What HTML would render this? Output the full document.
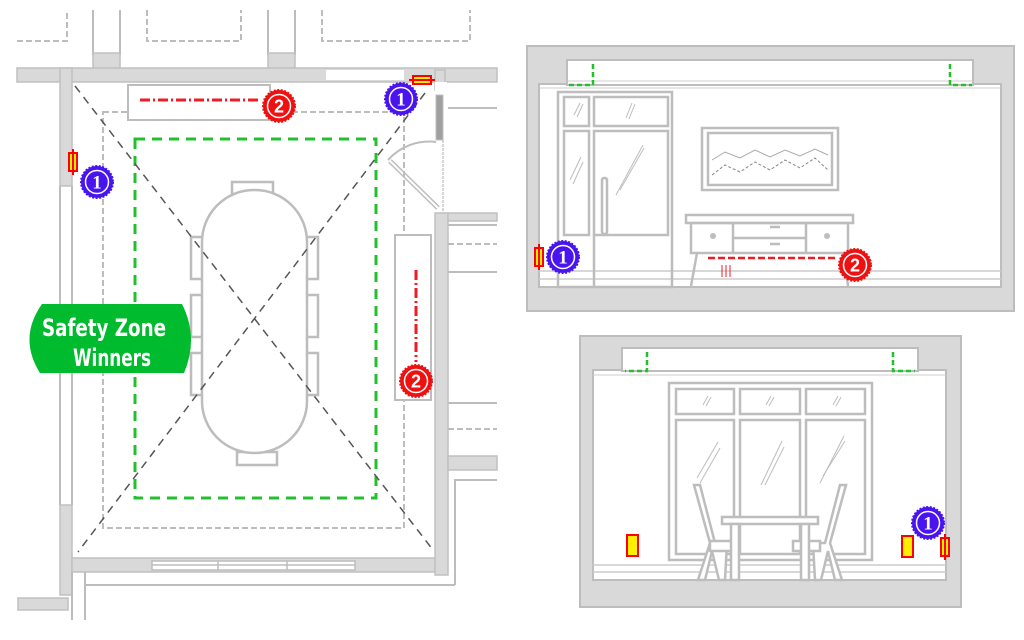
<!DOCTYPE html>
<html><head><meta charset="utf-8"><style>
html,body{margin:0;padding:0;background:#fff;width:1024px;height:640px;overflow:hidden}
svg{display:block}
</style></head><body>
<svg width="1024" height="640" viewBox="0 0 1024 640" xmlns="http://www.w3.org/2000/svg">
<defs>
<g id="b1">
<circle r="16" fill="#4a14ee" stroke="#4a14ee" stroke-width="2" stroke-dasharray="2 1.5"/>
<circle r="11.5" fill="none" stroke="#fff" stroke-width="1.5"/>
<text x="0" y="6.5" text-anchor="middle" font-family="Liberation Serif,serif" font-weight="bold" font-size="19" fill="#fff">1</text>
</g>
<g id="b2">
<circle r="16" fill="#ee1111" stroke="#ee1111" stroke-width="2" stroke-dasharray="2 1.5"/>
<circle r="11.5" fill="none" stroke="#fff" stroke-width="1.5"/>
<text x="0" y="6.5" text-anchor="middle" font-family="Liberation Sans,sans-serif" font-weight="bold" font-size="18" fill="#fff">2</text>
</g>
<g id="sv"><rect x="-4" y="-9" width="8" height="18" fill="#ffee00" stroke="#f00" stroke-width="2"/><line x1="0" y1="-13" x2="0" y2="13" stroke="#f00" stroke-width="2"/></g>
<g id="sh"><rect x="-9" y="-4" width="18" height="8" fill="#ffee00" stroke="#f00" stroke-width="2"/><line x1="-13" y1="0" x2="13" y2="0" stroke="#f00" stroke-width="2"/></g>
</defs>

<!-- ===== FLOOR PLAN ===== -->
<g fill="none" stroke="#bdbdbd" stroke-width="2" stroke-dasharray="6 3">
<polyline points="17,41 67,41 67,10"/>
<polyline points="147,10 147,41 241,41 241,10"/>
<polyline points="322,10 322,41 470,41 470,10"/>
</g>
<g stroke="#bdbdbd" stroke-width="2">
<line x1="93" y1="10" x2="93" y2="55"/><line x1="120" y1="10" x2="120" y2="55"/>
<line x1="268" y1="10" x2="268" y2="55"/><line x1="295" y1="10" x2="295" y2="55"/>
</g>
<g fill="#d9d9d9" stroke="#c0c0c0" stroke-width="1.5">
<rect x="93" y="53" width="27" height="16"/>
<rect x="268" y="53" width="27" height="16"/>
<rect x="17" y="68" width="480" height="14"/>
<rect x="60" y="68" width="12" height="118"/>
<rect x="60" y="505" width="12" height="90"/>
<rect x="72" y="558" width="370" height="14"/>
<rect x="435" y="213" width="13" height="362"/>
<rect x="448" y="213" width="49" height="8"/>
<rect x="448" y="456" width="49" height="14"/>
<rect x="435" y="70" width="10" height="20"/>
<rect x="18" y="598" width="50" height="12"/>
</g>
<rect x="326" y="70" width="78" height="10" fill="#fff"/>
<rect x="435" y="82" width="12" height="12" fill="#fff"/>
<g stroke="#bdbdbd" stroke-width="2">
<line x1="60" y1="186" x2="60" y2="505"/><line x1="72" y1="186" x2="72" y2="505"/>
<line x1="72" y1="572" x2="72" y2="620"/><line x1="85" y1="572" x2="85" y2="620"/>
<line x1="85" y1="585" x2="455" y2="585"/>
<polyline points="455,585 455,480 497,480" fill="none"/>
<line x1="448" y1="225" x2="497" y2="225"/>
<line x1="448" y1="272" x2="497" y2="272"/>
<line x1="448" y1="403" x2="497" y2="403"/>
<line x1="448" y1="108" x2="497" y2="108"/>
</g>
<line x1="448" y1="244" x2="497" y2="244" stroke="#bdbdbd" stroke-width="2" stroke-dasharray="6 3"/>
<line x1="448" y1="429" x2="497" y2="429" stroke="#bdbdbd" stroke-width="2" stroke-dasharray="6 3"/>
<g fill="#fff" stroke="#bdbdbd" stroke-width="1.5">
<rect x="152" y="561" width="203" height="9"/>
</g>
<g stroke="#bdbdbd" stroke-width="1.5"><line x1="152" y1="565" x2="355" y2="565"/><line x1="218" y1="561" x2="218" y2="570"/><line x1="287" y1="561" x2="287" y2="570"/></g>
<rect x="436" y="95" width="7" height="45" fill="#a0a0a0" stroke="#c0c0c0"/>
<path d="M388 160 A 55 55 0 0 1 436 142" fill="none" stroke="#bdbdbd" stroke-width="2"/>
<line x1="390" y1="161" x2="438" y2="208" stroke="#bdbdbd" stroke-width="5"/>
<line x1="390" y1="161" x2="438" y2="208" stroke="#fff" stroke-width="2"/>
<line x1="443" y1="140" x2="443" y2="213" stroke="#c8c8c8" stroke-width="1.5" stroke-dasharray="3 1"/>
<rect x="103" y="112" width="301" height="416" fill="none" stroke="#bdbdbd" stroke-width="2" stroke-dasharray="6 3"/>
<rect x="128" y="85" width="142" height="35" fill="#fff" stroke="#bdbdbd" stroke-width="2"/>
<rect x="395" y="235" width="36" height="165" fill="#fff" stroke="#bdbdbd" stroke-width="2"/>
<rect x="135" y="139" width="241" height="359" fill="none" stroke="#22c02b" stroke-width="3" stroke-dasharray="10 7"/>
<g fill="#fff" stroke="#bdbdbd" stroke-width="2.5">
<rect x="232" y="182" width="41" height="12"/>
<rect x="237" y="452" width="40" height="13"/>
<rect x="191" y="237" width="12" height="42"/><rect x="191" y="295" width="12" height="42"/><rect x="191" y="353" width="12" height="42"/>
<rect x="305" y="237" width="13" height="42"/><rect x="305" y="295" width="13" height="42"/><rect x="305" y="353" width="13" height="42"/>
<rect x="202" y="190" width="105" height="263" rx="52" ry="52"/>
</g>
<g stroke="#555" stroke-width="1.5" stroke-dasharray="8 6">
<line x1="75" y1="86" x2="433" y2="550"/>
<line x1="425" y1="93" x2="78" y2="552"/>
</g>
<line x1="140" y1="100" x2="258" y2="100" stroke="#ee1c24" stroke-width="3" stroke-dasharray="10 3 2 3"/>
<line x1="416" y1="270" x2="416" y2="362" stroke="#ee1c24" stroke-width="3" stroke-dasharray="10 3 2 3"/>
<use href="#b2" x="279" y="106"/>
<use href="#b2" x="416" y="381"/>
<use href="#b1" x="401" y="99"/>
<use href="#b1" x="97" y="182"/>
<use href="#sv" x="73" y="162"/>
<use href="#sh" x="422" y="80"/>
<path d="M42 304 H182 Q199 338 184 373 H40 Q18 338 42 304 Z" fill="#00bb2d"/>
<text x="42" y="336" textLength="124" lengthAdjust="spacingAndGlyphs" font-family="DejaVu Sans Condensed,Liberation Sans Narrow,sans-serif" font-size="24" font-weight="bold" fill="#fff">Safety Zone</text>
<text x="73" y="366" textLength="78" lengthAdjust="spacingAndGlyphs" font-family="DejaVu Sans Condensed,Liberation Sans Narrow,sans-serif" font-size="24" font-weight="bold" fill="#fff">Winners</text>

<!-- ===== ELEVATION 1 ===== -->
<rect x="527" y="46" width="487" height="265" fill="#d9d9d9" stroke="#bdbdbd" stroke-width="2"/>
<rect x="539" y="84" width="462" height="203" fill="#fff" stroke="#bdbdbd" stroke-width="2"/>
<rect x="567" y="60" width="406" height="25" fill="#fff" stroke="#bdbdbd" stroke-width="2"/>
<line x1="539" y1="88" x2="1001" y2="88" stroke="#ccc"/>
<line x1="567" y1="81" x2="973" y2="81" stroke="#ccc"/>
<polyline points="593,64 593,85 568,85" fill="none" stroke="#22c02b" stroke-width="2.5" stroke-dasharray="5 3"/>
<polyline points="950,64 950,85 972,85" fill="none" stroke="#22c02b" stroke-width="2.5" stroke-dasharray="5 3"/>
<line x1="539" y1="271" x2="1001" y2="271" stroke="#ccc" stroke-width="1.5"/>
<line x1="539" y1="279" x2="1001" y2="279" stroke="#ccc" stroke-width="1.5"/>
<g fill="none" stroke="#bdbdbd" stroke-width="2.5">
<rect x="558" y="92" width="114" height="195"/>
<rect x="564" y="97" width="25" height="29"/><rect x="594" y="97" width="74" height="29"/>
<rect x="564" y="131" width="25" height="104"/><rect x="594" y="131" width="74" height="104"/>
<line x1="594" y1="235" x2="594" y2="287"/>
<rect x="602" y="178" width="5" height="56" rx="2"/>
<rect x="702" y="128" width="136" height="62"/><rect x="708" y="133" width="124" height="52"/>
<rect x="686" y="215" width="167" height="8"/>
<rect x="691" y="223" width="157" height="30"/>
<line x1="733" y1="223" x2="733" y2="253"/><line x1="806" y1="223" x2="806" y2="253"/>
<line x1="733" y1="238" x2="806" y2="238"/>
<polyline points="697,253 691,286"/><polyline points="844,253 848,286"/>
</g>
<g stroke="#bdbdbd" stroke-width="1"><line x1="574" y1="115" x2="580" y2="103"/><line x1="577" y1="117" x2="583" y2="104"/><line x1="626" y1="118" x2="632" y2="103"/><line x1="629" y1="119" x2="635" y2="104"/>
<line x1="570" y1="180" x2="581" y2="157"/><line x1="573" y1="184" x2="583" y2="162"/>
<line x1="616" y1="195" x2="643" y2="145"/><line x1="620" y1="190" x2="644" y2="148"/></g>
<polyline points="712,160 725,152 740,158 755,150 770,157 785,150 800,156 815,149 828,155" fill="none" stroke="#aaa"/>
<polyline points="712,175 725,165 740,172 755,162 770,170 785,160 800,168 815,158 828,170" fill="none" stroke="#888" stroke-dasharray="3 2"/>
<circle cx="713" cy="236" r="3" fill="#bdbdbd"/><circle cx="827" cy="236" r="3" fill="#bdbdbd"/>
<line x1="770" y1="227" x2="780" y2="227" stroke="#bdbdbd" stroke-width="2.5"/><line x1="770" y1="244" x2="780" y2="244" stroke="#bdbdbd" stroke-width="2.5"/>
<line x1="708" y1="258" x2="838" y2="258" stroke="#ee1c24" stroke-width="2.5" stroke-dasharray="7 3"/>
<g stroke="#ee1c24" stroke-width="1"><line x1="722" y1="265" x2="722" y2="277"/><line x1="726" y1="265" x2="726" y2="277"/><line x1="730" y1="265" x2="730" y2="277"/></g>
<use href="#b1" x="563" y="257"/>
<use href="#sv" x="539" y="257"/>
<use href="#b2" x="855" y="265"/>

<!-- ===== ELEVATION 2 ===== -->
<rect x="580" y="336" width="381" height="271" fill="#d9d9d9" stroke="#bdbdbd" stroke-width="2"/>
<rect x="593" y="370" width="353" height="210" fill="#fff" stroke="#bdbdbd" stroke-width="2"/>
<rect x="622" y="348" width="296" height="23" fill="#fff" stroke="#bdbdbd" stroke-width="2"/>
<line x1="593" y1="375" x2="946" y2="375" stroke="#ccc"/>
<polyline points="647,352 647,371 625,371" fill="none" stroke="#22c02b" stroke-width="2.5" stroke-dasharray="5 3"/>
<polyline points="893,352 893,371 915,371" fill="none" stroke="#22c02b" stroke-width="2.5" stroke-dasharray="5 3"/>
<line x1="593" y1="565" x2="946" y2="565" stroke="#ccc" stroke-width="1.5"/>
<line x1="593" y1="572" x2="946" y2="572" stroke="#ccc" stroke-width="1.5"/>
<g fill="none" stroke="#bdbdbd" stroke-width="2.5">
<rect x="669" y="383" width="203" height="177"/>
<rect x="676" y="389" width="58" height="25"/><rect x="740" y="389" width="60" height="25"/><rect x="806" y="389" width="59" height="25"/>
<rect x="676" y="420" width="58" height="134"/><rect x="740" y="420" width="60" height="134"/><rect x="806" y="420" width="59" height="134"/>
</g>
<g fill="#fff" stroke="#bdbdbd" stroke-width="2.5">
<polygon points="694,485 700,485 715,543 727,543 725,580 719,580 712,551 705,580 698,580 710,543"/>
<polygon points="846,485 840,485 825,543 813,543 815,580 821,580 828,551 835,580 842,580 830,543"/>
<rect x="710" y="541" width="27" height="10"/><rect x="793" y="541" width="27" height="10"/>
<rect x="722" y="517" width="96" height="7"/>
<rect x="731" y="524" width="8" height="56"/><rect x="801" y="524" width="8" height="56"/>
</g>
<g stroke="#bdbdbd" stroke-width="1"><line x1="703" y1="405" x2="708" y2="396"/><line x1="706" y1="406" x2="711" y2="397"/><line x1="766" y1="405" x2="771" y2="396"/><line x1="769" y1="406" x2="774" y2="397"/><line x1="833" y1="405" x2="838" y2="396"/><line x1="836" y1="406" x2="841" y2="397"/>
<line x1="697" y1="478" x2="718" y2="442"/><line x1="700" y1="483" x2="720" y2="448"/>
<line x1="761" y1="485" x2="782" y2="441"/><line x1="765" y1="485" x2="784" y2="447"/>
<line x1="820" y1="483" x2="844" y2="436"/><line x1="823" y1="476" x2="845" y2="441"/></g>
<rect x="627" y="535" width="11" height="21" fill="#ffee00" stroke="#f00" stroke-width="2"/>
<rect x="902" y="536" width="11" height="21" fill="#ffee00" stroke="#f00" stroke-width="2"/>
<use href="#sv" x="945" y="547"/>
<use href="#b1" x="928" y="523"/>
</svg>
</body></html>
